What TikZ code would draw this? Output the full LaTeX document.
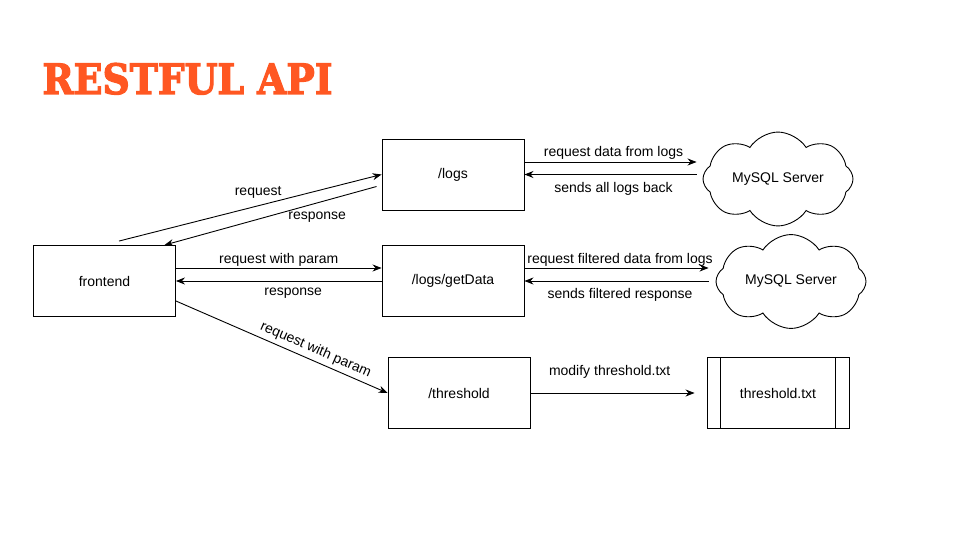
\documentclass[tikz,border=0pt]{standalone}
\usepackage{fontspec}
\setmainfont{Liberation Sans}
\newfontfamily\titlefont{DejaVu Serif}[FakeBold=3]
\usetikzlibrary{arrows.meta,shapes.symbols}
\definecolor{restorange}{RGB}{255,87,34}

\begin{document}
\begin{tikzpicture}[x=1pt, y=-1pt, line width=0.9pt,
        >={Stealth[length=9pt,width=7pt]},
        font=\fontsize{14}{16}\selectfont,
        block/.style={draw, minimum width=142pt, minimum height=71pt, inner sep=0pt},
        db/.style={draw, cloud, cloud puffs=8, cloud puff arc=115, aspect=1.8,
            minimum width=150pt, minimum height=84pt, inner sep=0pt},
        lbl/.style={inner sep=1pt}]
                    \useasboundingbox (0,0) rectangle (960,540);
                    \node[anchor=base west, inner sep=0pt, text=restorange] (title) at (42,94)
                        {\resizebox{290pt}{31pt}{\titlefont\bfseries RESTFUL API}};

                    \draw
                        (104.5, 281) node[block] (frontend){frontend}
                        (453, 174.5) node[block] (logs){/logs}
                        (453, 281) node[block] (getData){/logs/getData}
                        (459, 393) node[block] (threshold){/threshold}
                        (778, 393) node[block] (file){threshold.txt}
                        (778, 179) node[db] (mysqlA){MySQL Server}
                        (791, 281.5) node[db] (mysqlB){MySQL Server}

                        ([xshift=14pt]file.north west) -- ([xshift=14pt]file.south west)
                        ([xshift=-14pt]file.north east) -- ([xshift=-14pt]file.south east)

                        ([xshift=14.5pt, yshift=4pt]frontend.north) edge[->]
                            node[lbl, above=6pt, pos=0.53]{request} (logs.west)
                        ([xshift=-5pt, yshift=-12pt]logs.west) edge[->]
                            node[lbl, below=8pt, pos=0.28]{response} ([xshift=60pt]frontend.north)

                        ([yshift=13pt]frontend.east) edge[->]
                            node[lbl, above, midway]{request with param} ([yshift=13pt]getData.west)
                        (getData.west) edge[->]
                            node[lbl, below=6pt, pos=0.43]{response} (frontend.east)
                        ([yshift=-20pt]frontend.east) edge[->]
                            node[lbl, sloped, above=3pt, pos=0.64]{request with param} (threshold.west)

                        ([yshift=12.5pt]logs.east) edge[->, shorten >=6pt]
                            node[lbl, above=1pt, midway]{request data from logs} ([yshift=12.5pt]logs.east -| mysqlA.west)
                        (logs.east -| mysqlA.west) edge[->, shorten <=6pt]
                            node[lbl, below=6pt, midway]{sends all logs back} (logs.east)

                        ([yshift=13pt]getData.east) edge[->, shorten >=7pt]
                            node[lbl, above, midway]{request filtered data from logs} ([yshift=13pt]getData.east -| mysqlB.west)
                        (getData.east -| mysqlB.west) edge[->, shorten <=7pt]
                            node[lbl, below=6pt, midway]{sends filtered response} (getData.east)

                        (threshold.east) edge[->, shorten >=12pt]
                            node[lbl, above=13pt, pos=0.45]{modify threshold.txt} (file.west)
                    ;
                \end{tikzpicture}
\end{document}
